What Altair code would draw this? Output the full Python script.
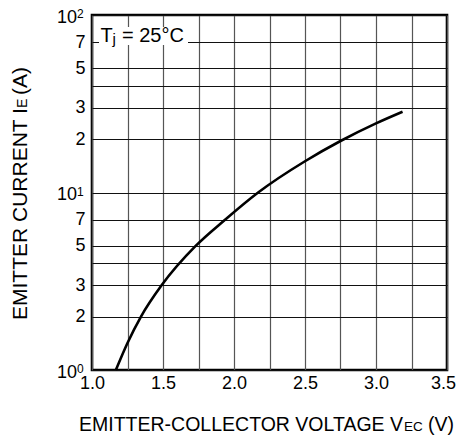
import altair as alt
import pandas as pd

# ---- data ----
V = [1.168, 1.25, 1.345, 1.49, 1.73, 1.935, 2.17, 2.5, 2.75, 3.0, 3.187]
I = [1.0, 1.42, 2.0, 3.0, 5.0, 7.0, 10.0, 15.0, 19.5, 24.5, 28.5]

x_grid = [1.0, 1.25, 1.5, 1.75, 2.0, 2.25, 2.5, 2.75, 3.0, 3.25, 3.5]
y_grid = [1, 2, 3, 4, 5, 7, 10, 20, 30, 40, 50, 70, 100]
decades = [1, 10, 100]
exponents = ["0", "1", "2"]

FONT = "Liberation Sans"
W, H = 355, 355

curve = pd.DataFrame({"V": V, "I": I})
dec = pd.DataFrame({"I": decades, "e": exponents})
one = pd.DataFrame({"a": [0]})

xs = alt.Scale(domain=[1.0, 3.5], nice=False, zero=False)
ys = alt.Scale(type="log", domain=[1, 100], nice=False)

x_axis = alt.Axis(
    values=x_grid,
    labelExpr="(round(datum.value*2) == datum.value*2) ? format(datum.value, '.1f') : ''",
    grid=True, gridColor="#555555", gridWidth=1.2,
    ticks=False, domain=False, title=None,
    labelFont=FONT, labelFontSize=18, labelColor="black", labelPadding=4,
    labelFlush=False,
    labelOffset={"condition": {"test": "datum.value == 3.5", "value": -4}, "value": 0},
)
y_axis = alt.Axis(
    values=y_grid,
    labelExpr="(datum.value==1||datum.value==4||datum.value==10||datum.value==40||datum.value==100) ? '' : (datum.value>=10 ? format(datum.value/10,'d') : format(datum.value,'d'))",
    grid=True, gridColor="#111111", gridWidth=1,
    ticks=False, domain=False, title=None,
    labelFont=FONT, labelFontSize=18, labelColor="black", labelPadding=7,
    labelFlush=False,
)

line = alt.Chart(curve).mark_line(color="black", strokeWidth=2.6, interpolate="monotone").encode(
    x=alt.X("V:Q", scale=xs, axis=x_axis),
    y=alt.Y("I:Q", scale=ys, axis=y_axis),
)

ten = alt.Chart(dec).mark_text(text="10", font=FONT, fontSize=18, align="right",
                               baseline="middle", dy=2.5, color="black").encode(
    x=alt.value(-15), y=alt.Y("I:Q", scale=ys))
ex = alt.Chart(dec).mark_text(font=FONT, fontSize=12, align="left",
                              baseline="middle", dy=-1, color="black").encode(
    x=alt.value(-15), y=alt.Y("I:Q", scale=ys), text="e:N")


def txt(s, x, y, size, angle=0, align="left"):
    return alt.Chart(one).mark_text(text=s, font=FONT, fontSize=size, angle=angle, align=align,
                                    baseline="alphabetic", color="black").encode(
        x=alt.value(x), y=alt.value(y))


# Tj label on a white box
box = alt.Chart(one).mark_rect(fill="white").encode(
    x=alt.value(7), x2=alt.value(96), y=alt.value(12), y2=alt.value(30))
t1 = txt("T", 8.5, 27, 20)
t2 = txt("j", 20.5, 29, 15)
t3 = txt("= 25°C", 30, 27, 20)

# x title pieces
TY = 416
xt1 = txt("EMITTER-COLLECTOR VOLTAGE V", 311, TY, 19.5, align="right")
xt2 = txt("EC", 312, TY, 13.5)
xt3 = txt("(V)", 336, TY, 19.5)

# y title pieces (rotated, reading upward)
yx = -65
yt1 = txt("EMITTER CURRENT I", yx, 305, 21, angle=270)
yt2 = txt("E", yx, 305 - 212, 14, angle=270)
yt3 = txt("(A)", yx, 305 - 212 - 13, 21, angle=270)

chart = alt.layer(line, box, t1, t2, t3, ten, ex, xt1, xt2, xt3, yt1, yt2, yt3).properties(
    width=W, height=H,
    autosize=alt.AutoSizeParams(type="none"),
    padding={"left": 84, "top": 7, "right": 9, "bottom": 66},
    background="white",
).configure_view(stroke="black", strokeWidth=2.6)

chart.save("out.html", embed_options={"renderer": "svg", "actions": False})
